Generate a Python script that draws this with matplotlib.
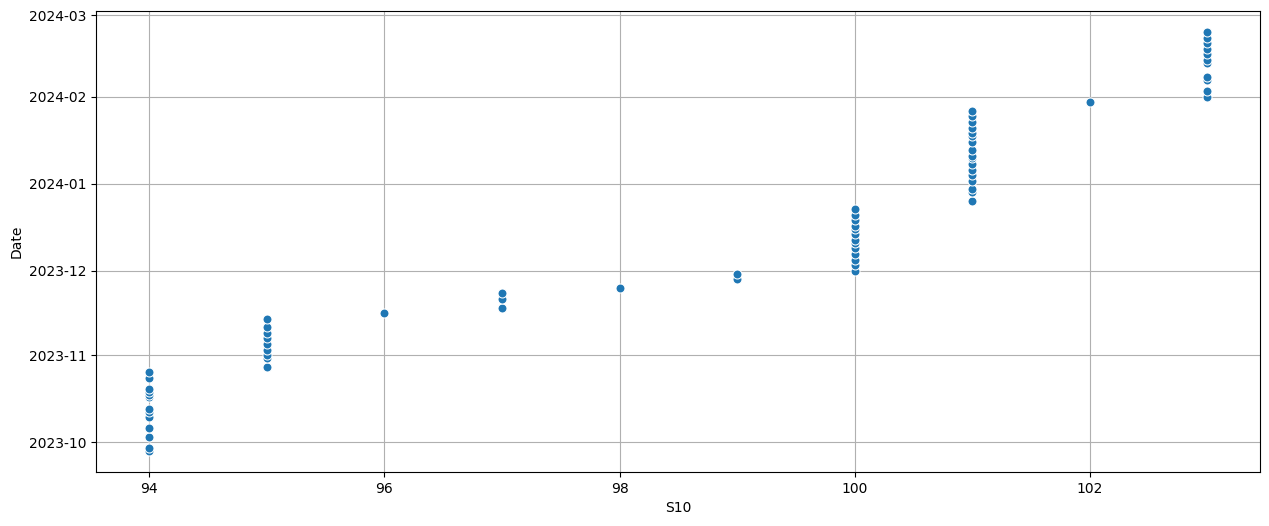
import numpy as np
import pandas as pd
import matplotlib
matplotlib.use("Agg")
import matplotlib.pyplot as plt
import matplotlib.dates as mdates

# S10 value -> dates
s10_94 = ["2023-09-28", "2023-09-29", "2023-10-03", "2023-10-06", "2023-10-10",
          "2023-10-12", "2023-10-13", "2023-10-17", "2023-10-18", "2023-10-19",
          "2023-10-20", "2023-10-24", "2023-10-26"]
s10_95 = ["2023-10-28", "2023-10-31", "2023-11-01", "2023-11-03", "2023-11-05",
          "2023-11-07", "2023-11-09", "2023-11-11", "2023-11-14"]
s10_96 = ["2023-11-16"]
s10_97 = ["2023-11-18", "2023-11-21", "2023-11-23"]
s10_98 = ["2023-11-25"]
s10_99 = ["2023-11-28", "2023-11-30"]
s10_100 = ["2023-12-01", "2023-12-03", "2023-12-05", "2023-12-07", "2023-12-09",
           "2023-12-11", "2023-12-12", "2023-12-14", "2023-12-16", "2023-12-17",
           "2023-12-19", "2023-12-21", "2023-12-23"]
s10_101 = ["2023-12-26", "2023-12-29", "2023-12-30", "2024-01-02", "2024-01-04",
           "2024-01-06", "2024-01-08", "2024-01-10", "2024-01-11", "2024-01-13",
           "2024-01-16", "2024-01-18", "2024-01-19", "2024-01-21", "2024-01-23",
           "2024-01-25", "2024-01-27"]
s10_102 = ["2024-01-30"]
s10_103 = ["2024-02-01", "2024-02-03", "2024-02-07", "2024-02-08", "2024-02-13",
           "2024-02-14", "2024-02-16", "2024-02-18", "2024-02-20", "2024-02-22",
           "2024-02-24"]

groups = {94: s10_94, 95: s10_95, 96: s10_96, 97: s10_97, 98: s10_98,
          99: s10_99, 100: s10_100, 101: s10_101, 102: s10_102, 103: s10_103}

rows = []
for k, ds in groups.items():
    for d in ds:
        rows.append((k, pd.Timestamp(d)))
df = pd.DataFrame(rows, columns=["S10", "Date"])

fig, ax = plt.subplots(figsize=(12.69, 5.26), dpi=100)
fig.subplots_adjust(left=0.076, right=0.993, top=0.979, bottom=0.103)

ax.scatter(df["S10"], df["Date"], s=42, color="#1f77b4",
           edgecolor="white", linewidth=0.75, zorder=3)

ax.yaxis.set_major_locator(mdates.MonthLocator())
ax.yaxis.set_major_formatter(mdates.DateFormatter("%Y-%m"))
ax.set_xlabel("S10")
ax.set_ylabel("Date")
ax.grid(True)

plt.savefig("out.png")
